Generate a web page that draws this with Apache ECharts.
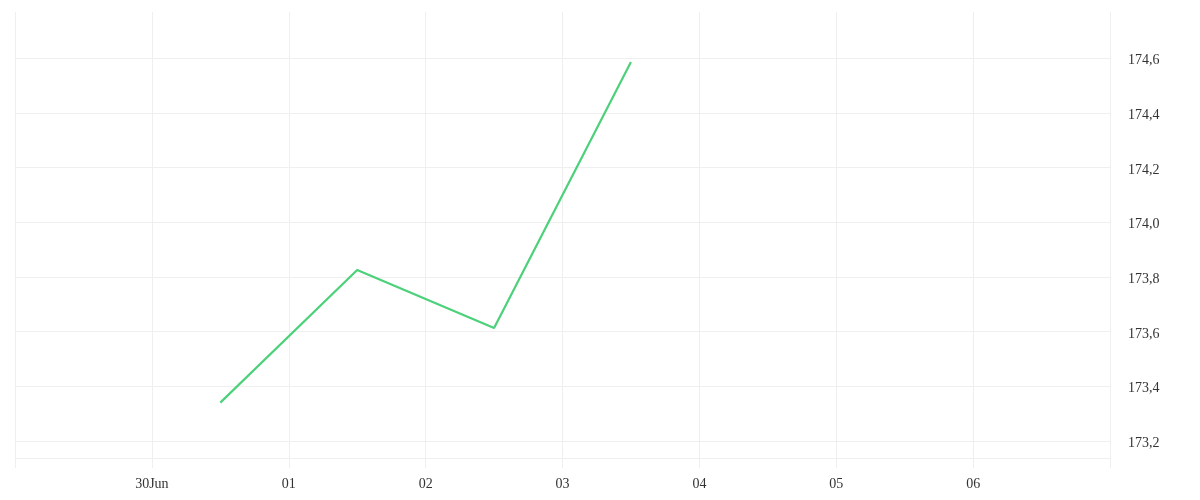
<!DOCTYPE html>
<html>
<head>
<meta charset="utf-8">
<script src="https://cdn.jsdelivr.net/npm/echarts@6/dist/echarts.min.js"></script>
<style>html,body{margin:0;padding:0;background:#fff}#c{width:1200px;height:500px}</style>
</head>
<body>
<div id="c"></div>
<script>
// Data
const dates = ['2024-06-30T12:00:00Z', '2024-07-01T12:00:00Z', '2024-07-02T12:00:00Z', '2024-07-03T12:00:00Z'];
const values = [173.34, 173.825, 173.613, 174.586];
const yTickLabels = [173.2, 173.4, 173.6, 173.8, 174.0, 174.2, 174.4, 174.6];
const yGridExtra = [173.137];
const xStart = '2024-06-29T00:00:00Z';
const xEnd = '2024-07-07T00:00:00Z';

const DAY = 86400000;
const chart = echarts.init(document.getElementById('c'), null, {renderer: 'canvas'});
const font = "'Liberation Serif', serif";
chart.setOption({
  animation: false,
  grid: {left: 15, right: 90, top: 12, bottom: 32, containLabel: false},
  xAxis: {
    type: 'value',
    min: Date.parse(xStart),
    max: Date.parse(xEnd),
    interval: DAY,
    axisLine: {show: false},
    axisTick: {show: false},
    splitLine: {show: true, lineStyle: {color: '#efefef', width: 1}},
    axisLabel: {
      showMinLabel: false, showMaxLabel: false,
      color: '#333', fontFamily: font, fontSize: 14, margin: 9,
      formatter: function (v) {
        const d = new Date(v);
        const day = d.getUTCDate();
        if (day === 30) return '30Jun';
        return (day < 10 ? '0' : '') + day;
      }
    }
  },
  yAxis: {
    type: 'value',
    position: 'right',
    min: 173.101,
    max: 174.769,
    axisLine: {show: true, lineStyle: {color: '#efefef'}},
    axisTick: {show: false, customValues: yTickLabels.concat(yGridExtra)},
    splitLine: {show: true, lineStyle: {color: '#efefef', width: 1}},
    axisLabel: {
      customValues: yTickLabels,
      color: '#333', fontFamily: font, fontSize: 14, margin: 18,
      verticalAlign: 'top', lineHeight: 5,
      formatter: function (v) { return v.toFixed(1).replace('.', ','); }
    }
  },
  series: [{
    type: 'line',
    data: dates.map((d, i) => [Date.parse(d), values[i]]),
    symbol: 'none',
    lineStyle: {color: '#4cd17a', width: 2.2},
    itemStyle: {color: '#4cd17a'}
  }]
});
</script>
</body>
</html>
